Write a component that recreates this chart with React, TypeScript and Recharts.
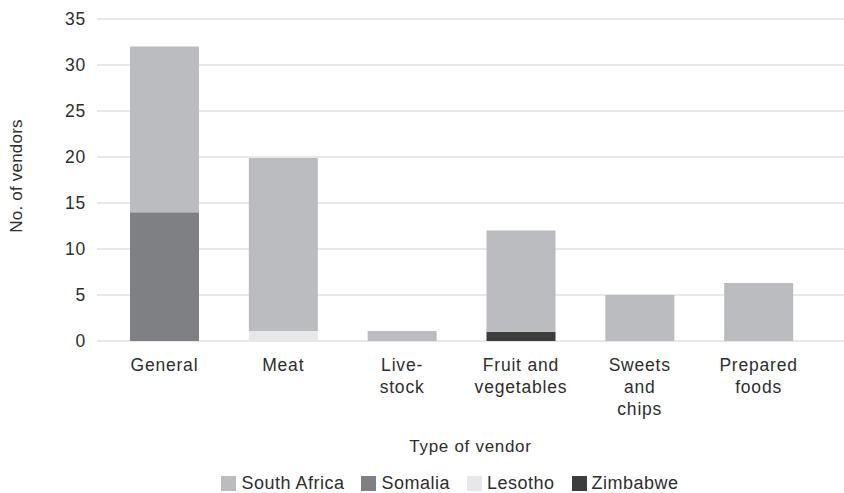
import React from 'react';
import { BarChart, Bar, XAxis, YAxis, CartesianGrid, Legend } from 'recharts';

const categories = ['General', 'Meat', 'Livestock', 'Fruit and vegetables', 'Sweets and chips', 'Prepared foods'];
const tickLines = [['General'], ['Meat'], ['Live-', 'stock'], ['Fruit and', 'vegetables'], ['Sweets', 'and', 'chips'], ['Prepared', 'foods']];
const southAfrica = [18, 18.8, 1.1, 11, 5, 6.3];
const somalia = [14, 0, 0, 0, 0, 0];
const lesotho = [0, 1.1, 0, 0, 0, 0];
const zimbabwe = [0, 0, 0, 1, 0, 0];
const yTicks = [0, 5, 10, 15, 20, 25, 30, 35];

const legendNames = ['South Africa', 'Somalia', 'Lesotho', 'Zimbabwe'];
const legendColors = ['#bbbcc0', '#7f8084', '#e6e7e8', '#3d3d3d'];

const data = categories.map((c, i) => ({
  name: c,
  southAfrica: southAfrica[i],
  somalia: somalia[i],
  lesotho: lesotho[i],
  zimbabwe: zimbabwe[i],
}));

const FONT = '"Liberation Sans", Arial, Helvetica, sans-serif';
const TEXT = '#2e2e2e';

const XTick = (props: any) => {
  const { x, y, index } = props;
  const lines = tickLines[index] || [];
  return (
    <text x={x} y={y} textAnchor="middle" fill={TEXT} fontFamily={FONT} fontSize={17.5} letterSpacing={0.8}>
      {lines.map((l, i) => (
        <tspan key={i} x={x} y={y + 21.5 + i * 22}>{l}</tspan>
      ))}
    </text>
  );
};

const YLabel = (props: any) => {
  const vb = props.viewBox || {};
  const cx = 16;
  const cy = (vb.y ?? 0) + (vb.height ?? 0) / 2 - 4;
  return (
    <text x={cx} y={cy} transform={`rotate(-90, ${cx}, ${cy})`} textAnchor="middle" dominantBaseline="central"
      fill={TEXT} fontFamily={FONT} fontSize={17} letterSpacing={0.2}>
      No. of vendors
    </text>
  );
};

const LegendContent = () => (
  <div style={{ width: 844, height: 37, display: 'flex', justifyContent: 'center', alignItems: 'flex-end', paddingLeft: 56, paddingBottom: 1, boxSizing: 'border-box', fontFamily: FONT, fontSize: 18, letterSpacing: 0.5, color: TEXT }}>
    {legendNames.map((n, i) => (
      <div key={n} style={{ display: 'flex', alignItems: 'center', marginRight: i < legendNames.length - 1 ? 17 : 0 }}>
        <div style={{ width: 15, height: 15, background: legendColors[i], marginRight: 5 }} />
        <span style={{ lineHeight: '18px' }}>{n}</span>
      </div>
    ))}
  </div>
);

export default function App() {
  return (
    <div style={{ position: 'absolute', left: 0, top: 0, width: 844, height: 493, background: '#fff' }}>
      <BarChart width={844} height={493} data={data} margin={{ top: 19, right: 0, bottom: 0, left: 0 }}>
        <CartesianGrid vertical={false} stroke="#e0e0e0" strokeWidth={1.5} />
        <XAxis dataKey="name" axisLine={false} tickLine={false} height={115} interval={0}
          padding={{ left: 8, right: 26 }} tick={<XTick />}
          label={{ value: 'Type of vendor', position: 'insideBottom', offset: 4.5, fill: TEXT, fontFamily: FONT, fontSize: 17, letterSpacing: 0.7 } as any} />
        <YAxis domain={[0, 35]} ticks={yTicks} axisLine={false} tickLine={false} width={97} tickMargin={5}
          tick={{ fill: TEXT, fontFamily: FONT, fontSize: 17.5, letterSpacing: 0.8 } as any}
          label={<YLabel />} />
        <Legend verticalAlign="bottom" content={<LegendContent />} />
        <Bar dataKey="somalia" stackId="a" fill={legendColors[1]} barSize={69} isAnimationActive={false} />
        <Bar dataKey="lesotho" stackId="a" fill={legendColors[2]} barSize={69} isAnimationActive={false} />
        <Bar dataKey="zimbabwe" stackId="a" fill={legendColors[3]} barSize={69} isAnimationActive={false} />
        <Bar dataKey="southAfrica" stackId="a" fill={legendColors[0]} barSize={69} isAnimationActive={false} />
      </BarChart>
    </div>
  );
}
